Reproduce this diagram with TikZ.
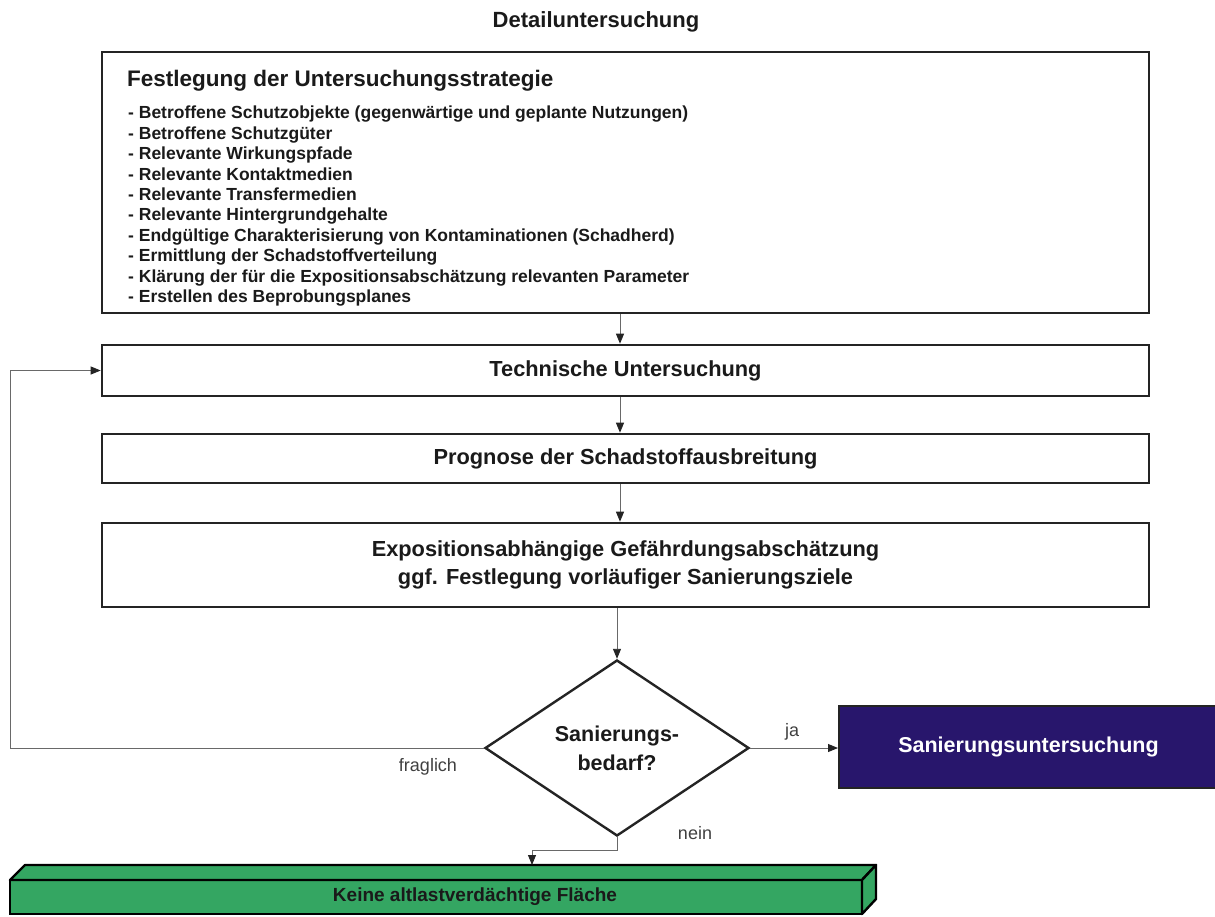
\documentclass[tikz,border=0pt]{standalone}
\usepackage{fontspec}
\setmainfont{Liberation Sans}
\usetikzlibrary{shapes.geometric,arrows.meta,calc}
\definecolor{edge}{RGB}{36,36,36}
\definecolor{wire}{RGB}{105,105,105}
\definecolor{navy}{RGB}{40,22,108}
\definecolor{leaf}{RGB}{52,166,98}
\definecolor{ink}{RGB}{26,26,26}
\begin{document}
\begin{tikzpicture}[x=1pt,y=-1pt,
  box/.style={draw=edge,line width=2.6pt,fill=white,rectangle,inner sep=0pt,
    text=ink,align=center,font=\bfseries\fontsize{21.8}{28}\selectfont},
  wire/.style={draw=wire,line width=0.9pt},
  arr/.style={wire,-{Triangle[length=10pt,width=8pt,color=edge]}},
  lab/.style={text=black!75,inner sep=0pt,font=\fontsize{18}{20}\selectfont},
  face/.style={draw=black,line width=2.4pt,fill=leaf,line join=round},
]
\useasboundingbox (0,0) rectangle (1215,916);

% heading
\node[text=ink,font=\bfseries\fontsize{22}{26}\selectfont] (title) at (596,22) {Detailuntersuchung};

% strategy box with its list
\node[box,minimum width=1047pt,minimum height=261pt] (strat) at (625.5,182.5) {};
\node[anchor=west,inner sep=0pt,text=ink,font=\bfseries\fontsize{22.5}{26}\selectfont] (stratHead) at (127,81)
  {Festlegung der Untersuchungsstrategie};
\node[anchor=north west,align=left,inner sep=0pt,text=ink,font=\bfseries\fontsize{17.5}{20.4}\selectfont] (stratList) at (128,106)
  {- Betroffene Schutzobjekte (gegenwärtige und geplante Nutzungen)\\
   - Betroffene Schutzgüter\\
   - Relevante Wirkungspfade\\
   - Relevante Kontaktmedien\\
   - Relevante Transfermedien\\
   - Relevante Hintergrundgehalte\\
   - Endgültige Charakterisierung von Kontaminationen (Schadherd)\\
   - Ermittlung der Schadstoffverteilung\\
   - Klärung der für die Expositionsabschätzung relevanten Parameter\\
   - Erstellen des Beprobungsplanes};

% process steps
\node[box,minimum width=1047pt,minimum height=51pt] (tech) at (625.5,370.5) {Technische Untersuchung};
\node[box,minimum width=1047pt,minimum height=49pt] (prog) at (625.5,458.5) {Prognose der Schadstoffausbreitung};
\node[box,minimum width=1047pt,minimum height=84pt] (expo) at (625.5,565)
  {Expositionsabhängige Gefährdungsabschätzung\\ggf. Festlegung vorläufiger Sanierungsziele};

% decision
\node[diamond,draw=edge,line width=2.4pt,fill=white,minimum width=264pt,minimum height=176pt,inner sep=0pt,
  align=center,text=ink,font=\bfseries\fontsize{21.5}{29}\selectfont] (need) at (617,748) {Sanierungs-\\bedarf?};

% outcomes
\node[draw=edge,line width=2pt,fill=navy,minimum width=379pt,minimum height=82pt,inner sep=0pt,
  text=white,font=\bfseries\fontsize{21.5}{26}\selectfont] (san) at (1028.5,747) {Sanierungsuntersuchung};

\node[draw=black,line width=2.6pt,fill=leaf,outer sep=0pt,minimum width=852pt,minimum height=34pt,inner sep=0pt,
  text=ink,font=\bfseries\fontsize{19}{20}\selectfont] (keine) at (436,897)
  {\hspace*{78pt}Keine altlastverdächtige Fläche};
\draw[face] (keine.north west) -- ++(15,-15) -- ($(keine.north east)+(14,-15)$) -- (keine.north east) -- cycle;
\draw[face] (keine.north east) -- ++(14,-15) -- ++(0,34) -- (keine.south east) -- cycle;
\coordinate (keineTop) at ($(keine.north west)+(15,-15)$);

% connectors
\coordinate (col) at (620,0);
\coordinate (loop) at (10,0);
\coordinate (drop) at (532,0);
\draw[arr] (strat.south -| col) -- (tech.north -| col);
\draw[arr] (tech.south -| col) -- (prog.north -| col);
\draw[arr] (prog.south -| col) -- (expo.north -| col);
\draw[arr] (expo.south -| need.north) -- (need.north);
\draw[arr] (need.east) -- (need.east -| san.west);
\draw[arr] (need.west) -- (need.west -| loop) -- (tech.west -| loop) -- (tech.west);
\draw[arr] (need.south) -- ++(0,13) -| (drop |- keineTop);

% branch labels
\node[lab] (ja) at (792,732) {ja};
\node[lab] (fraglich) at (428,767) {fraglich};
\node[lab] (nein) at (695,833) {nein};
\end{tikzpicture}
\end{document}
